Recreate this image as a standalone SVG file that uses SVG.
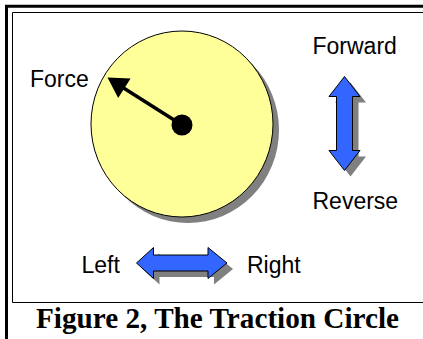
<svg xmlns="http://www.w3.org/2000/svg" width="423" height="339" viewBox="0 0 423 339">
<style>
.lbl{font-family:"Liberation Sans",Arial,sans-serif;font-size:23px;fill:#000}
.cap{font-family:"Liberation Serif","Times New Roman",serif;font-size:28.5px;font-weight:bold;fill:#000}
.shadow{fill:#808080}
.blue{fill:#3366FF;stroke:#000;stroke-width:1}
</style>
<rect width="423" height="339" fill="#fff"/>
<g id="frame">
<path d="M6.5 339 V6.3 H423" fill="none" stroke="#000" stroke-width="3"/>
<path d="M12.5 302.5 V12.5 H423" fill="none" stroke="#000" stroke-width="1"/>
<path d="M12.5 302.5 H423" fill="none" stroke="#000" stroke-width="1"/>
</g>
<g id="circle">
<ellipse class="shadow" cx="188" cy="130" rx="91" ry="93"/>
<ellipse cx="182" cy="124" rx="91" ry="93" fill="#FFFF99" stroke="#000" stroke-width="1"/>
</g>
<g id="force">
<line x1="182" y1="125" x2="122" y2="87" stroke="#000" stroke-width="3.5"/>
<polygon points="107.5,77.5 130.6,78.5 118.2,97.9" fill="#000"/>
<circle cx="182" cy="125" r="10.5" fill="#000"/>
<text class="lbl" x="30" y="87.3">Force</text>
</g>
<g id="fwd-rev">
<path class="shadow" transform="translate(6,6)" d="M344.5 76.5 L360 96.5 L352.5 96.5 L352.5 150.5 L360 150.5 L344.5 170.5 L329 150.5 L336.5 150.5 L336.5 96.5 L329 96.5 Z"/>
<path class="blue" d="M344.5 76.5 L360 96.5 L352.5 96.5 L352.5 150.5 L360 150.5 L344.5 170.5 L329 150.5 L336.5 150.5 L336.5 96.5 L329 96.5 Z"/>
<text class="lbl" x="312.5" y="54.3">Forward</text>
<text class="lbl" x="312.5" y="209">Reverse</text>
</g>
<g id="left-right">
<path class="shadow" transform="translate(6,6)" d="M136.5 263 L153.5 247.5 L153.5 255 L208 255 L208 247.5 L227 263 L208 278.5 L208 271 L153.5 271 L153.5 278.5 Z"/>
<path class="blue" d="M136.5 263 L153.5 247.5 L153.5 255 L208 255 L208 247.5 L227 263 L208 278.5 L208 271 L153.5 271 L153.5 278.5 Z"/>
<text class="lbl" x="81.5" y="273.3">Left</text>
<text class="lbl" x="247" y="273.3">Right</text>
</g>
<g id="caption">
<text class="cap" x="36" y="327.7" textLength="363" lengthAdjust="spacingAndGlyphs">Figure 2, The Traction Circle</text>
</g>
</svg>
